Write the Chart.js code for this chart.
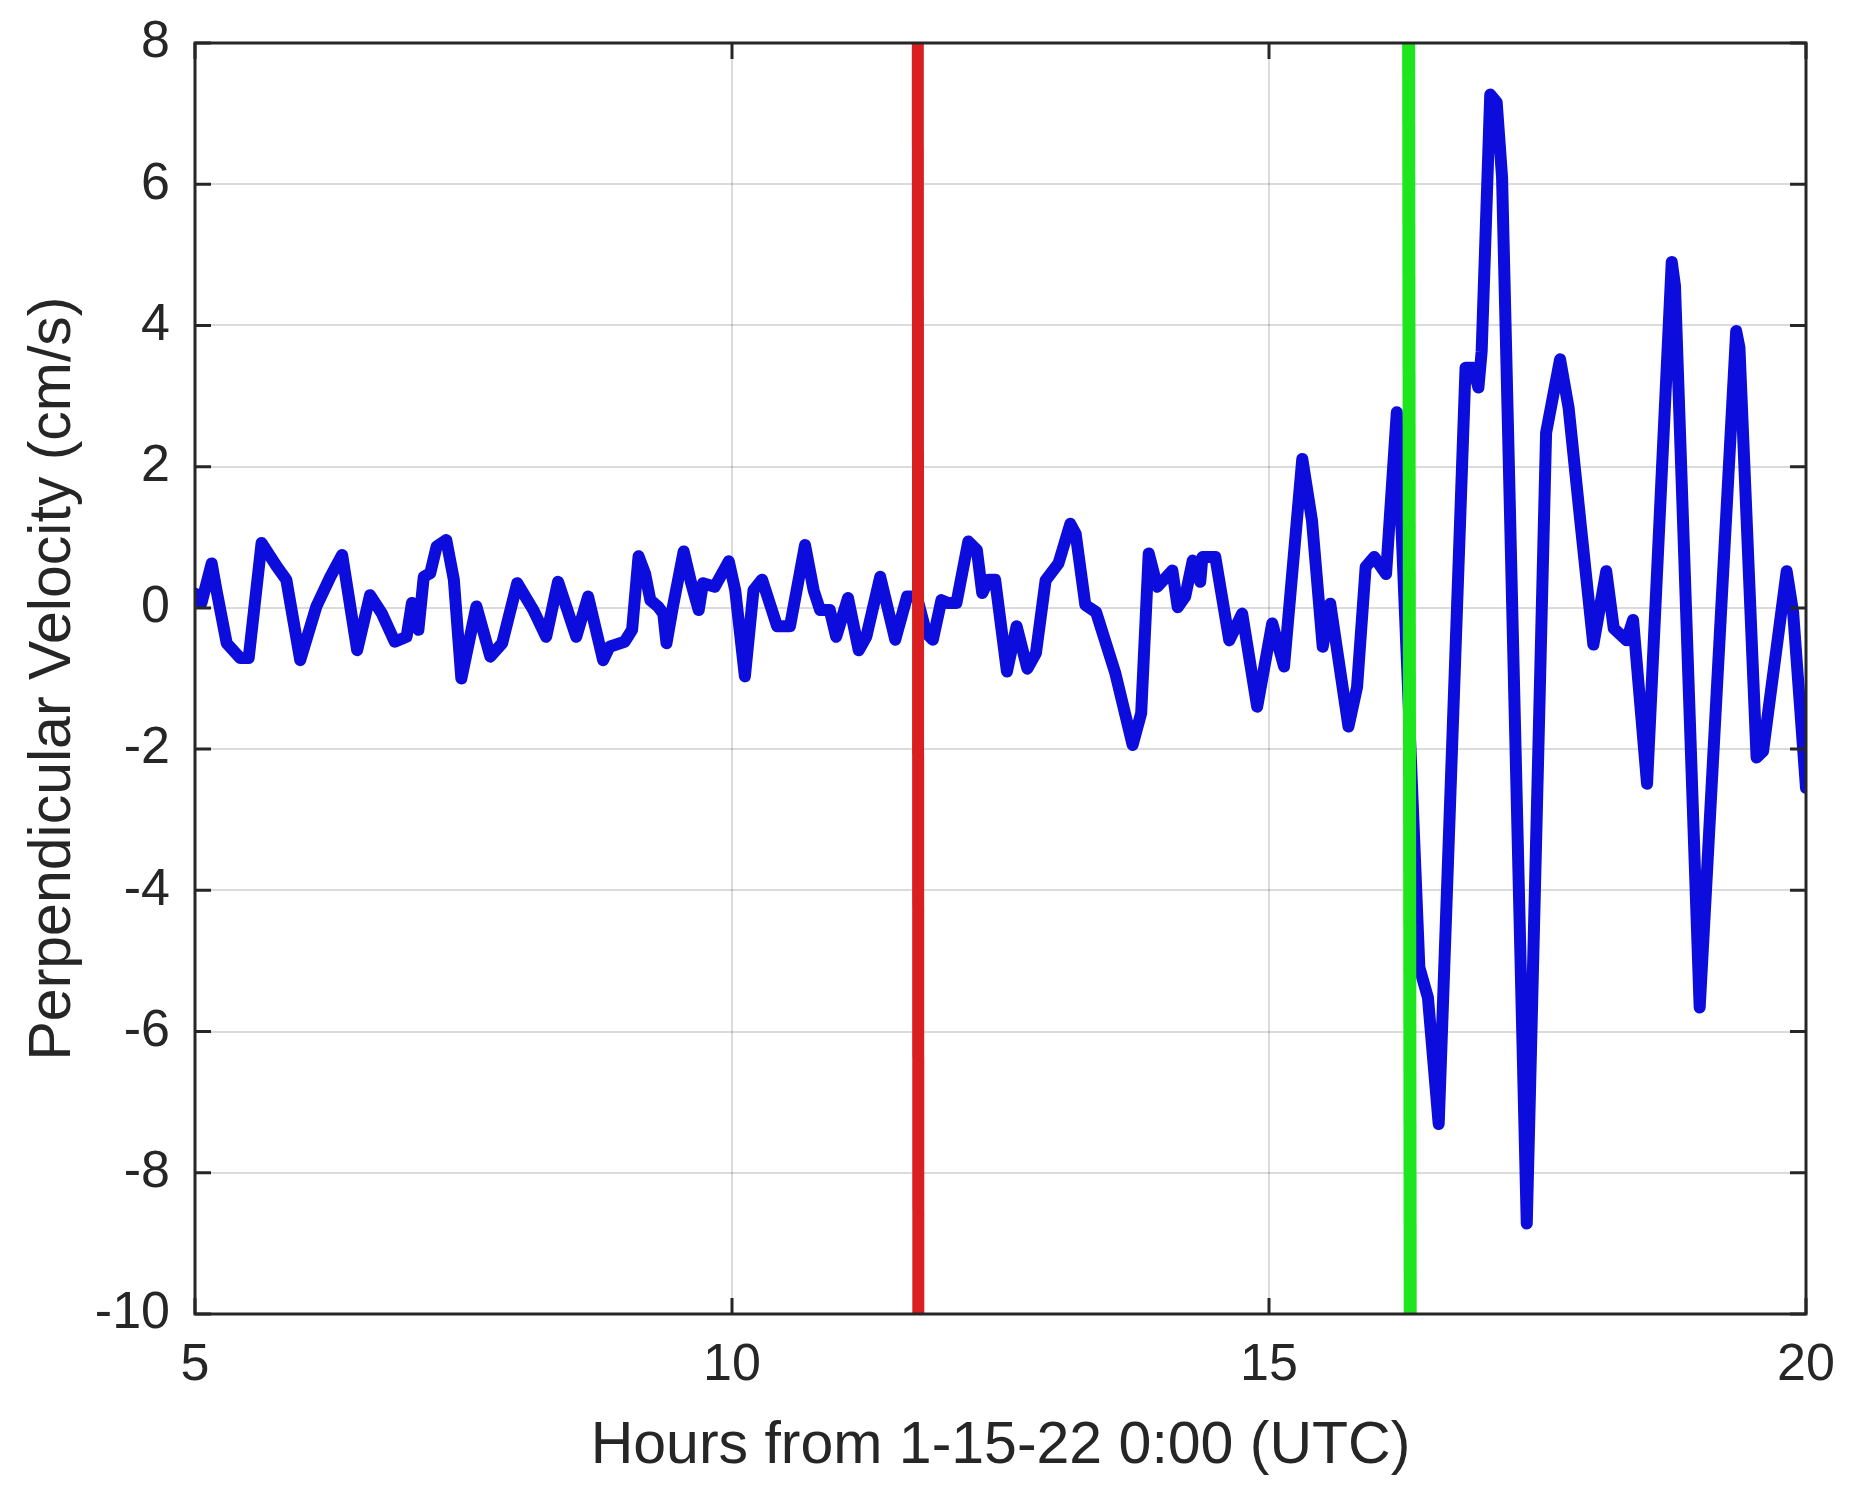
<!DOCTYPE html>
<html>
<head>
<meta charset="utf-8">
<title>Perpendicular Velocity</title>
<script src="https://cdn.jsdelivr.net/npm/chart.js@4.4.1/dist/chart.umd.min.js"></script>
<style>
  html, body { margin: 0; padding: 0; background: #ffffff; }
  canvas { display: block; }
</style>
</head>
<body>
<canvas id="velocityChart" width="1852" height="1501"></canvas>
<script>
// hours after 1-15-22 0:00 UTC
const hours = [
    5.00, 5.06, 5.155, 5.20, 5.295, 5.42, 5.50, 5.62, 5.76, 5.85,
    5.98, 6.13, 6.26, 6.37, 6.51, 6.63, 6.74, 6.86, 6.97, 7.02,
    7.08, 7.13, 7.19, 7.25, 7.34, 7.41, 7.48, 7.62, 7.75, 7.86,
    8.00, 8.15, 8.27, 8.38, 8.55, 8.66, 8.80, 8.86, 9.00, 9.07,
    9.13, 9.19, 9.24, 9.31, 9.36, 9.39, 9.45, 9.55, 9.62, 9.69,
    9.73, 9.84, 9.97, 10.03, 10.12, 10.20, 10.28, 10.42, 10.54, 10.68,
    10.76, 10.82, 10.91, 10.97, 11.08, 11.18, 11.25, 11.38, 11.52, 11.63,
    11.72, 11.81, 11.87, 11.95, 12.01, 12.09, 12.20, 12.28, 12.33, 12.39,
    12.45, 12.56, 12.65, 12.75, 12.83, 12.92, 13.04, 13.15, 13.20, 13.29,
    13.39, 13.57, 13.73, 13.81, 13.88, 13.96, 14.10, 14.15, 14.22, 14.29,
    14.36, 14.38, 14.50, 14.63, 14.75, 14.89, 15.03, 15.14, 15.31, 15.40,
    15.50, 15.57, 15.74, 15.82, 15.90, 15.98, 16.09, 16.19, 16.40, 16.48,
    16.58, 16.83, 16.90, 16.95, 16.98, 17.06, 17.12, 17.17, 17.40, 17.58,
    17.71, 17.79, 17.90, 18.02, 18.14, 18.21, 18.33, 18.39, 18.52, 18.75,
    18.78, 19.01, 19.35, 19.38, 19.54, 19.60, 19.82, 19.88, 20.00
];
// perpendicular velocity (cm/s)
const velocity = [
    0.20, 0.07, 0.63, 0.25, -0.50, -0.71, -0.71, 0.92, 0.59, 0.40,
    -0.74, 0.02, 0.44, 0.75, -0.60, 0.18, -0.08, -0.48, -0.41, 0.07,
    -0.31, 0.44, 0.49, 0.87, 0.96, 0.40, -1.00, 0.02, -0.69, -0.50,
    0.35, -0.03, -0.41, 0.37, -0.41, 0.16, -0.74, -0.55, -0.48, -0.31,
    0.73, 0.49, 0.11, 0.02, -0.08, -0.50, 0.02, 0.80, 0.35, -0.03,
    0.35, 0.30, 0.66, 0.25, -0.97, 0.25, 0.40, -0.26, -0.26, 0.89,
    0.25, -0.03, -0.03, -0.41, 0.14, -0.60, -0.41, 0.44, -0.45, 0.16,
    0.16, -0.36, -0.45, 0.11, 0.07, 0.07, 0.94, 0.82, 0.21, 0.40,
    0.40, -0.90, -0.26, -0.86, -0.64, 0.39, 0.63, 1.19, 1.05, 0.04,
    -0.06, -0.93, -1.94, -1.49, 0.77, 0.30, 0.53, 0.01, 0.16, 0.67,
    0.37, 0.72, 0.72, -0.46, -0.08, -1.40, -0.22, -0.83, 2.11, 1.24,
    -0.55, 0.06, -1.68, -1.12, 0.58, 0.72, 0.48, 2.77, -5.09, -5.52,
    -7.31, 3.40, 3.40, 3.12, 3.63, 7.27, 7.16, 6.10, -8.72, 2.48,
    3.52, 2.83, 1.21, -0.52, 0.52, -0.29, -0.46, -0.17, -2.49, 4.90,
    4.56, -5.66, 3.92, 3.69, -2.12, -2.03, 0.52, -0.06, -2.55
];

// vertical event markers: [hour at top, hour at bottom]
const redMarkerHours = [11.73, 11.735];
const greenMarkerHours = [16.30, 16.315];

const xTickValues = [5, 10, 15, 20];
const yTickValues = [-10, -8, -6, -4, -2, 0, 2, 4, 6, 8];
const xRange = [5, 20];
const yRange = [-10, 8];

const axisColor = '#262626';
const fontFamily = '"Liberation Sans", Arial, Helvetica, sans-serif';

const velocityPoints = hours.map((h, i) => ({x: h, y: velocity[i]}));
const markerPoints = function (pair) {
    return [{x: pair[0], y: yRange[1]}, {x: pair[1], y: yRange[0]}];
};

// matlab style box with inward ticks on all four sides
const boxPlugin = {
    id: 'matlabBox',
    afterDatasetsDraw(chart) {
        const {ctx, chartArea: a, scales} = chart;
        const tick = 16;
        ctx.save();
        ctx.strokeStyle = axisColor;
        ctx.lineWidth = 3;
        ctx.beginPath();
        for (const t of scales.x.ticks) {
            const px = scales.x.getPixelForValue(t.value);
            ctx.moveTo(px, a.bottom);
            ctx.lineTo(px, a.bottom - tick);
            ctx.moveTo(px, a.top);
            ctx.lineTo(px, a.top + tick);
        }
        for (const t of scales.y.ticks) {
            const py = scales.y.getPixelForValue(t.value);
            ctx.moveTo(a.left, py);
            ctx.lineTo(a.left + tick, py);
            ctx.moveTo(a.right, py);
            ctx.lineTo(a.right - tick, py);
        }
        ctx.stroke();
        ctx.strokeRect(a.left, a.top, a.right - a.left, a.bottom - a.top);
        ctx.restore();
    }
};

const createVelocityChart = function () {
    const data = {
        datasets: [
            {
                label: 'Perpendicular velocity',
                data: velocityPoints,
                borderColor: '#0c0cdc',
                borderWidth: 12,
                pointRadius: 0,
                tension: 0,
                borderJoinStyle: 'round',
                borderCapStyle: 'round',
                order: 2,
            },
            {
                label: 'red marker',
                data: markerPoints(redMarkerHours),
                borderColor: '#d91f1f',
                borderWidth: 12,
                pointRadius: 0,
                order: 1,
            },
            {
                label: 'green marker',
                data: markerPoints(greenMarkerHours),
                borderColor: '#1ee61e',
                borderWidth: 13,
                pointRadius: 0,
                order: 0,
            },
        ],
    };

    const config = {
        type: 'line',
        data: data,
        plugins: [boxPlugin],
        options: {
            responsive: false,
            animation: false,
            devicePixelRatio: 1,
            layout: {
                padding: {top: 43, right: 46, left: 0, bottom: 0},
            },
            plugins: {
                legend: {display: false},
                tooltip: {enabled: false},
            },
            scales: {
                x: {
                    type: 'linear',
                    min: xRange[0],
                    max: xRange[1],
                    afterBuildTicks: (s) => { s.ticks = xTickValues.map((v) => ({value: v})); },
                    afterFit: (s) => {
                        s.height = 187;
                        s.paddingLeft = 0;
                        s.paddingRight = 0;
                    },
                    grid: {color: 'rgba(0,0,0,0.14)', lineWidth: 2, drawTicks: false},
                    border: {display: false},
                    ticks: {
                        color: axisColor,
                        padding: 20,
                        maxRotation: 0,
                        autoSkip: false,
                        font: {family: fontFamily, size: 52},
                    },
                    title: {
                        display: true,
                        text: 'Hours from 1-15-22 0:00 (UTC)',
                        color: axisColor,
                        font: {family: fontFamily, size: 59},
                        padding: {top: 0, bottom: 19},
                    },
                },
                y: {
                    type: 'linear',
                    min: yRange[0],
                    max: yRange[1],
                    afterBuildTicks: (s) => { s.ticks = yTickValues.map((v) => ({value: v})); },
                    afterFit: (s) => {
                        s.width = 195;
                        s.paddingTop = 0;
                        s.paddingBottom = 0;
                    },
                    grid: {color: 'rgba(0,0,0,0.14)', lineWidth: 2, drawTicks: false},
                    border: {display: false},
                    ticks: {
                        color: axisColor,
                        padding: 25,
                        autoSkip: false,
                        font: {family: fontFamily, size: 52},
                    },
                    title: {
                        display: true,
                        text: 'Perpendicular Velocity (cm/s)',
                        color: axisColor,
                        font: {family: fontFamily, size: 59},
                        padding: {top: 18, bottom: 0},
                    },
                },
            },
        },
    };

    const ctx = document.querySelector('#velocityChart');
    return new Chart(ctx, config);
};

const init = function () {
    createVelocityChart();
};

document.addEventListener('DOMContentLoaded', init);
</script>
</body>
</html>
